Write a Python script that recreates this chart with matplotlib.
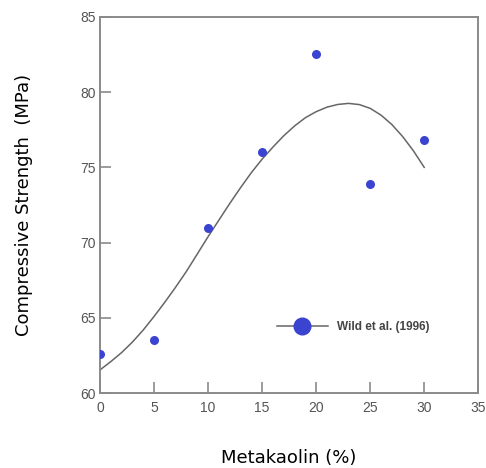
import matplotlib
matplotlib.use("Agg")
import matplotlib.pyplot as plt
from matplotlib.lines import Line2D

# measured points
metakaolin = [0, 5, 10, 15, 20, 25, 30]
strength = [62.6, 63.5, 71.0, 76.0, 82.5, 73.9, 76.8]

# trend curve (one value per 1 % metakaolin)
curve_x = list(range(0, 31))
curve_y = [61.55, 62.1, 62.7, 63.4, 64.2, 65.1, 66.05, 67.05, 68.1, 69.25,
           70.4, 71.5, 72.6, 73.65, 74.65, 75.55, 76.35, 77.1, 77.75, 78.3,
           78.7, 79.0, 79.18, 79.25, 79.17, 78.92, 78.47, 77.85, 77.05, 76.1,
           75.0]

x_ticks = [0, 5, 10, 15, 20, 25, 30, 35]
y_ticks = [60, 65, 70, 75, 80, 85]

BLUE = "#3b43d1"
GREY = "#555555"

fig = plt.figure(figsize=(4.86, 4.68), dpi=100)
ax = fig.add_axes([0.206, 0.160, 0.778, 0.804])

ax.plot(curve_x, curve_y, color="#666666", lw=1.1, zorder=2)
ax.plot(metakaolin, strength, "o", color=BLUE, ms=6.5, mec="none", zorder=3)

ax.set_xlim(0, 35)
ax.set_ylim(60, 85)
ax.set_xticks(x_ticks)
ax.set_yticks(y_ticks)

for side in ["left", "right", "top", "bottom"]:
    ax.spines[side].set_color("#8a8a8a")
    ax.spines[side].set_linewidth(1.4)

ax.tick_params(direction="in", length=8, width=1.2, color="#8a8a8a",
               labelsize=10, labelcolor=GREY, top=False, right=False, pad=3)
ax.tick_params(axis="x", pad=6)
for lbl in ax.get_xticklabels() + ax.get_yticklabels():
    lbl.set_family("Liberation Sans")

ax.set_xlabel("Metakaolin (%)", fontsize=13, labelpad=24, color="black")
ax.set_ylabel("Compressive Strength  (MPa)", fontsize=13, labelpad=34, color="black")

handle = Line2D([], [], color="#666666", lw=1.1, marker="o", ms=13,
                mfc=BLUE, mec="none")
leg = ax.legend([handle], ["Wild et al. (1996)"], loc="center left",
                bbox_to_anchor=(0.44, 0.175), frameon=False, handlelength=4.3,
                handletextpad=0.75,
                prop={"size": 8.5, "weight": "bold", "family": "Liberation Sans"})
for t in leg.get_texts():
    t.set_color("#444444")

fig.savefig("out.png", dpi=100)
